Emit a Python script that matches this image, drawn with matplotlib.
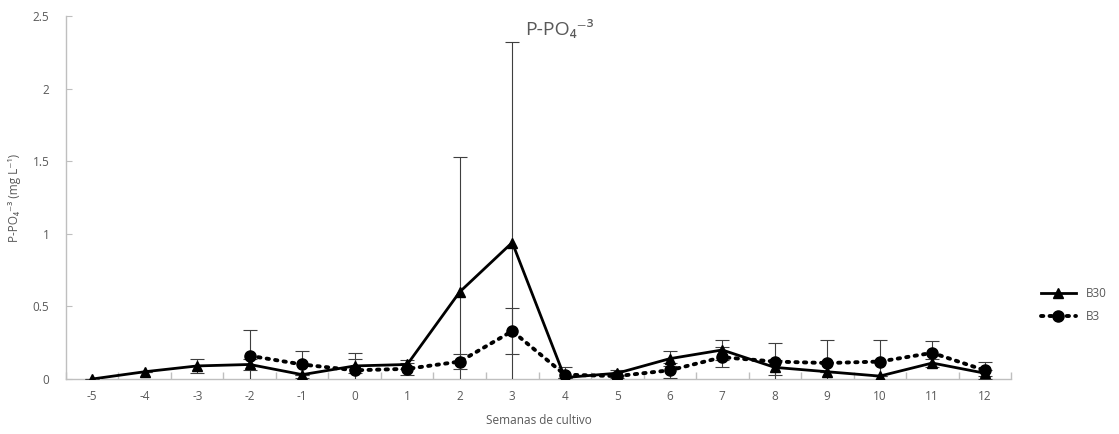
import matplotlib
matplotlib.use("Agg")
import matplotlib.pyplot as plt
from matplotlib.lines import Line2D
import numpy as np

plt.rcParams['font.family'] = ['Open Sans', 'DejaVu Sans']
plt.rcParams['axes.unicode_minus'] = False

semanas = list(range(-5, 13))

# B30: semanas -5 a 12
b30 = [0.00, 0.05, 0.09, 0.10, 0.03, 0.09, 0.10, 0.60, 0.94,
       0.01, 0.04, 0.14, 0.20, 0.08, 0.05, 0.02, 0.11, 0.04]
b30_err = [0.00, 0.00, 0.05, 0.04, 0.00, 0.05, 0.03, 0.93, 1.38,
           0.00, 0.02, 0.05, 0.07, 0.05, 0.00, 0.00, 0.03, 0.02]

# B3: semanas -2 a 12
semanas_b3 = list(range(-2, 13))
b3 = [0.16, 0.10, 0.06, 0.07, 0.12, 0.33, 0.03, 0.02, 0.06,
      0.15, 0.12, 0.11, 0.12, 0.18, 0.06]
b3_err = [0.18, 0.09, 0.12, 0.04, 0.05, 0.16, 0.05, 0.01, 0.05,
          0.07, 0.13, 0.16, 0.15, 0.08, 0.06]

txt = '#595959'
ejes = '#bfbfbf'
punteado = (0, (0.6, 1.6))

fig = plt.figure(figsize=(11.19, 4.34), dpi=100)
ax = fig.add_axes([66 / 1119, 1 - 379 / 434, 945 / 1119, 363 / 434])

ax.errorbar(semanas, b30, yerr=b30_err, color='black', lw=2, marker='^', ms=7,
            ecolor='#3f3f3f', elinewidth=0.8, capsize=5, capthick=0.8, zorder=3)
ax.errorbar(semanas_b3, b3, yerr=b3_err, color='black', lw=2.8, ls=punteado,
            dash_capstyle='round', marker='o', ms=8,
            ecolor='#3f3f3f', elinewidth=0.8, capsize=5, capthick=0.8, zorder=3)

ax.set_xlim(-5.5, 12.5)
ax.set_ylim(0, 2.5)
ax.set_xticks(semanas)
ax.set_xticks(np.arange(-5.5, 13, 1), minor=True)
ax.set_yticks([0, 0.5, 1, 1.5, 2, 2.5])
ax.set_yticklabels(['0', '0.5', '1', '1.5', '2', '2.5'])
ax.tick_params(axis='x', which='major', length=0, pad=8, labelsize=8.5, labelcolor=txt)
ax.tick_params(axis='x', which='minor', direction='in', length=5, color=ejes, width=1)
ax.tick_params(axis='y', direction='in', length=4, color=ejes, labelsize=8.5, labelcolor=txt, pad=12)

for s in ['top', 'right']:
    ax.spines[s].set_visible(False)
for s in ['left', 'bottom']:
    ax.spines[s].set_color(ejes)
    ax.spines[s].set_linewidth(1)

ax.set_xlabel('Semanas de cultivo', fontsize=8.5, color=txt, labelpad=8)
ax.set_ylabel('P-PO₄⁻³ (mg L⁻¹)', fontsize=8.5, color=txt, labelpad=8)

fig.text(0.5, 1 - 30 / 434, 'P-PO₄⁻³', fontsize=14, color=txt, ha='center', va='center')

handles = [Line2D([], [], color='black', lw=2, marker='^', ms=7),
           Line2D([], [], color='black', lw=2.8, ls=punteado, dash_capstyle='round', marker='o', ms=8)]
fig.legend(handles, ['B30', 'B3'], loc='center left', bbox_to_anchor=(1030 / 1119, 1 - 305 / 434),
           frameon=False, fontsize=8.5, labelcolor=txt, handlelength=3, labelspacing=0.8)

fig.savefig('out.png', dpi=100)
